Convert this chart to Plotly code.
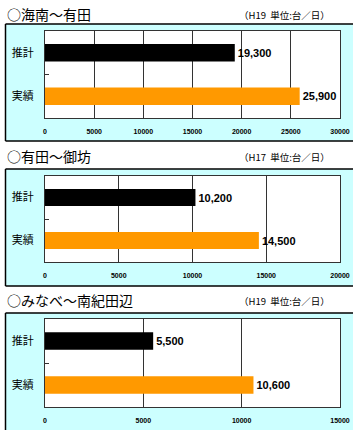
import plotly.graph_objects as go

# ---- data ----
sections = ["○海南～有田", "○有田～御坊", "○みなべ～南紀田辺"]
notes = ["（H19  単位:台／日）", "（H17  単位:台／日）", "（H19  単位:台／日）"]
categories = ["推計", "実績"]
estimate = [19300, 10200, 5500]
actual = [25900, 14500, 10600]
axis_max = [30000, 20000, 15000]
tick_step = [5000, 5000, 5000]

W, H = 353, 430
BLACK = "#000000"
ORANGE = "#FF9900"
BOX_FILL = "#CCFFFF"
JP = "Noto Sans CJK JP"
NUM = "Liberation Sans"

# layout in pixels (top, bottom) for each panel
plot_y = [(31, 118), (176, 262), (319, 407)]
box_y = [(24, 141), (169, 286), (313, 440)]
title_y = [14, 156, 300]
plot_x = (45, 340)
box_left = 5.5

def px(x):
    return x / W

def py(y):
    return 1 - y / H

fig = go.Figure()
shapes = []
annotations = []

# white areas outside the cyan panels (paper itself is cyan)
shapes.append(dict(type="rect", xref="paper", yref="paper",
                   x0=0, x1=px(box_left), y0=0, y1=1,
                   fillcolor="#FFFFFF", line=dict(width=0), layer="below"))
gaps = [(0, box_y[0][0]), (box_y[0][1], box_y[1][0]), (box_y[1][1], box_y[2][0])]
for g0, g1 in gaps:
    shapes.append(dict(type="rect", xref="paper", yref="paper",
                       x0=0, x1=1, y0=py(g1), y1=py(g0),
                       fillcolor="#FFFFFF", line=dict(width=0), layer="below"))

border = dict(color="#000000", width=1.5)

for i in range(3):
    xa = "x" if i == 0 else f"x{i+1}"
    ya = "y" if i == 0 else f"y{i+1}"
    vals = [estimate[i], actual[i]]
    colors = [BLACK, ORANGE]
    for c, v, col in zip(categories, vals, colors):
        fig.add_trace(go.Bar(
            x=[v], y=[c], orientation="h",
            marker=dict(color=col, line=dict(width=0)),
            width=0.4,
            text=[f"{v:,}"], textposition="outside",
            textfont=dict(family=NUM, size=11, color="#000000", weight="bold"),
            cliponaxis=False,
            xaxis=xa, yaxis=ya, showlegend=False, hoverinfo="skip",
        ))
    t, b = plot_y[i]
    xkey = "xaxis" if i == 0 else f"xaxis{i+1}"
    ykey = "yaxis" if i == 0 else f"yaxis{i+1}"
    fig.update_layout({
        xkey: dict(
            domain=[px(plot_x[0]), px(plot_x[1])],
            anchor=ya,
            range=[0, axis_max[i]],
            dtick=tick_step[i], tick0=0,
            tickformat="d",
            showgrid=True, gridcolor="#333333", gridwidth=1,
            showline=True, linecolor="#333333", linewidth=1, mirror=True,
            ticks="", ticklabelstandoff=7,
            tickfont=dict(family=NUM, size=7, color="#000000", weight="bold"),
            zeroline=False, fixedrange=True, automargin=False,
        ),
        ykey: dict(
            domain=[py(b), py(t)],
            anchor=xa,
            type="category",
            categoryorder="array",
            categoryarray=categories[::-1],
            tickson="boundaries",
            ticks="inside", ticklen=4, tickcolor="#333333",
            showline=True, linecolor="#333333", linewidth=1, mirror=True,
            showgrid=False,
            ticklabelstandoff=8,
            tickfont=dict(family=JP, size=11, color="#000000"),
            fixedrange=True, automargin=False,
        ),
    })
    bt, bb = box_y[i]
    # top / bottom / left borders of the panel (open on the right edge)
    shapes.append(dict(type="line", xref="paper", yref="paper",
                       x0=px(box_left), x1=1, y0=py(bt), y1=py(bt),
                       line=border, layer="below"))
    if bb <= H:
        shapes.append(dict(type="line", xref="paper", yref="paper",
                           x0=px(box_left), x1=1, y0=py(bb), y1=py(bb),
                           line=border, layer="below"))
    shapes.append(dict(type="line", xref="paper", yref="paper",
                       x0=px(box_left), x1=px(box_left), y0=max(py(bb), 0), y1=py(bt),
                       line=border, layer="below"))
    # white plotting area
    shapes.append(dict(
        type="rect", xref="paper", yref="paper",
        x0=px(plot_x[0]), x1=px(plot_x[1]), y0=py(b), y1=py(t),
        fillcolor="#FFFFFF", line=dict(width=0),
        layer="below",
    ))
    annotations.append(dict(
        text=sections[i], xref="paper", yref="paper",
        x=px(5), y=py(title_y[i]), xanchor="left", yanchor="middle",
        showarrow=False, font=dict(family=JP, size=14, color="#000000"),
    ))
    annotations.append(dict(
        text=notes[i], xref="paper", yref="paper",
        x=px(332), y=py(title_y[i] + 1), xanchor="right", yanchor="middle",
        showarrow=False, font=dict(family=JP, size=9.5, color="#000000"),
    ))

fig.update_layout(
    width=W, height=H,
    margin=dict(l=0, r=0, t=0, b=0, autoexpand=False),
    paper_bgcolor=BOX_FILL,
    plot_bgcolor="rgba(0,0,0,0)",
    shapes=shapes,
    annotations=annotations,
    bargap=0.6,
    barmode="overlay",
)

fig.write_html("out.html", config={"displayModeBar": False})
